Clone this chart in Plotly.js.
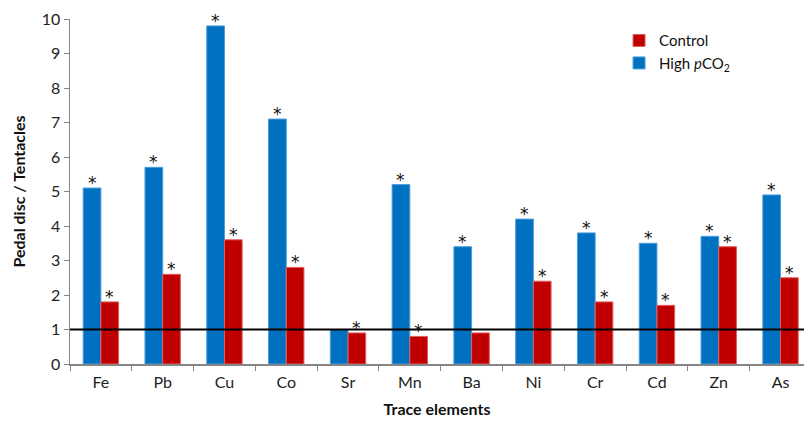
<!DOCTYPE html>
<html>
<head>
<meta charset="utf-8">
<script src="https://cdn.plot.ly/plotly-3.0.1.min.js"></script>
<style>html,body{margin:0;padding:0;background:#fff;}#chart{width:804px;height:423px;}</style>
</head>
<body>
<div id="chart"></div>
<script>
const elements = ["Fe","Pb","Cu","Co","Sr","Mn","Ba","Ni","Cr","Cd","Zn","As"];
const highCO2 = [5.1,5.7,9.8,7.1,1.0,5.2,3.4,4.2,3.8,3.5,3.7,4.9];
const control = [1.8,2.6,3.6,2.8,0.9,0.8,0.9,2.4,1.8,1.7,3.4,2.5];
const highStars = ["*","*","*","*","","*","*","*","*","*","*","*"];
const controlStars = ["*","*","*","*","*","*","","*","*","*","*","*"];
const refLine = 1;
const yTicks = [0,1,2,3,4,5,6,7,8,9,10];

const font = "Lato, Open Sans, Liberation Sans, sans-serif";
const halfBar = 8.85; // px offset from category centre to bar centre
const starFont = {size:17, color:"#111", family:"DejaVu Sans, sans-serif"};

const annotations = [];
elements.forEach((el, i) => {
  if (highStars[i]) annotations.push({x:el, y:highCO2[i], text:highStars[i], showarrow:false,
    xref:"x", yref:"y", xanchor:"center", yanchor:"bottom", xshift:-halfBar, yshift:-7, font:starFont});
  if (controlStars[i]) annotations.push({x:el, y:control[i], text:controlStars[i], showarrow:false,
    xref:"x", yref:"y", xanchor:"center", yanchor:"bottom", xshift:halfBar, yshift:-7, font:starFont});
});

const traces = [
  {type:"bar", name:"High <i>p</i>CO<sub>2</sub>", x:elements, y:highCO2,
   marker:{color:"#0070C0", line:{color:"#4A9EDA", width:1}}},
  {type:"bar", name:"Control", x:elements, y:control,
   marker:{color:"#C00000", line:{color:"#E06060", width:1}}}
];
const layout = {
  width:804, height:423,
  margin:{l:70, r:0, t:19, b:59},
  paper_bgcolor:"#fff", plot_bgcolor:"#fff",
  font:{family:font, color:"#222", size:15},
  barmode:"group", bargap:0.427, bargroupgap:0,
  showlegend:true,
  legend:{x:0.748, y:0.985, xanchor:"left", yanchor:"top", traceorder:"reversed",
          font:{size:15, color:"#111"}, bgcolor:"rgba(0,0,0,0)", itemwidth:30},
  xaxis:{range:[-0.5, 11.38], tickson:"boundaries", ticks:"outside", ticklen:5, tickcolor:"#868686",
         showline:true, linecolor:"#868686", linewidth:1.5, showgrid:false, zeroline:false,
         tickfont:{size:16, color:"#222"}, automargin:false, ticklabelstandoff:3,
         title:{text:"<b>Trace elements</b>", font:{size:16, color:"#111"}, standoff:14}},
  yaxis:{range:[0,10], tickvals:yTicks, ticks:"outside", ticklen:5, tickcolor:"#868686",
         showline:true, linecolor:"#868686", linewidth:1.5, showgrid:false, zeroline:false,
         tickfont:{size:16, color:"#222"}, automargin:false,
         title:{text:"<b>Pedal disc / Tentacles</b>", font:{size:16, color:"#111"}, standoff:12}},
  shapes:[{type:"line", xref:"paper", x0:0, x1:1, yref:"y", y0:refLine, y1:refLine,
           line:{color:"#000", width:2}}],
  annotations:annotations
};
Plotly.newPlot("chart", traces, layout, {displayModeBar:false, staticPlot:true});
</script>
</body>
</html>
